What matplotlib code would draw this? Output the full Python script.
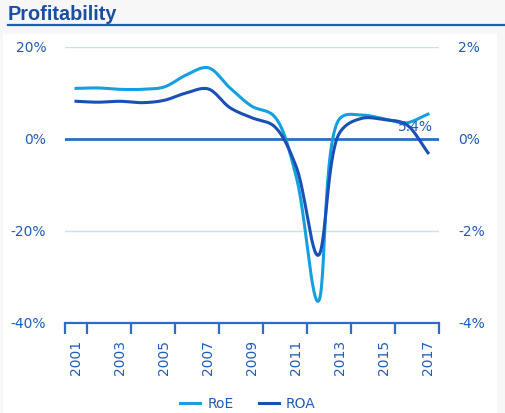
import numpy as np
import matplotlib
matplotlib.use('Agg')
import matplotlib.pyplot as plt
from matplotlib.patches import Rectangle
from matplotlib.lines import Line2D

# data
years = list(range(2001, 2018))
roe = [11.0, 11.1, 10.8, 10.8, 11.3, 13.9, 15.5, 11.1, 7.1, 5.0, -8.0, -35.3, 4.5, 5.2, 4.4, 3.5, 5.4]
roa = [0.82, 0.80, 0.82, 0.79, 0.84, 1.00, 1.09, 0.68, 0.46, 0.28, -0.59, -2.53, 0.15, 0.45, 0.42, 0.32, -0.30]
left_ticks = [-40, -20, 0, 20]
right_ticks = [-4, -2, 0, 2]
end_label = '5.4%'

light = '#14A0DE'
dark = '#1A4FB5'
txt = '#1F5CB5'


def smooth(y, sx, sy, n=30, a=0.5):
    # centripetal catmull-rom through the points, done in pixel-like space
    p = np.column_stack([np.arange(len(y)) * sx, np.asarray(y, float) * sy])
    p = np.vstack([2 * p[0] - p[1], p, 2 * p[-1] - p[-2]])
    out = []
    for i in range(1, len(p) - 2):
        P0, P1, P2, P3 = p[i - 1], p[i], p[i + 1], p[i + 2]
        t0 = 0.0
        t1 = t0 + np.linalg.norm(P1 - P0) ** a
        t2 = t1 + np.linalg.norm(P2 - P1) ** a
        t3 = t2 + np.linalg.norm(P3 - P2) ** a
        t = np.linspace(t1, t2, n)[:, None]
        A1 = (t1 - t) / (t1 - t0) * P0 + (t - t0) / (t1 - t0) * P1
        A2 = (t2 - t) / (t2 - t1) * P1 + (t - t1) / (t2 - t1) * P2
        A3 = (t3 - t) / (t3 - t2) * P2 + (t - t2) / (t3 - t2) * P3
        B1 = (t2 - t) / (t2 - t0) * A1 + (t - t0) / (t2 - t0) * A2
        B2 = (t3 - t) / (t3 - t1) * A2 + (t - t1) / (t3 - t1) * A3
        C = (t2 - t) / (t2 - t1) * B1 + (t - t1) / (t2 - t1) * B2
        out.append(C if i == 1 else C[1:])
    out = np.vstack(out)
    return out[:, 0] / sx, out[:, 1] / sy


plt.rcParams['font.family'] = ['DejaVu Sans']
fig = plt.figure(figsize=(5.06, 4.13), dpi=100, facecolor='#F7F7F7')

# white panel and title
fig.add_artist(Rectangle((3 / 506, 0), 494 / 506, 1 - 34 / 413, transform=fig.transFigure,
                         facecolor='white', edgecolor='none', zorder=-10))
fig.text(8 / 506, 1 - 20.5 / 413, 'Profitability', fontsize=14.3, fontweight='bold',
         family='Liberation Sans', color='#1A4FA0', va='baseline', ha='left')
fig.add_artist(Line2D([8 / 506, 1], [1 - 25 / 413, 1 - 25 / 413], transform=fig.transFigure,
                      color=txt, lw=1.6))

ax = fig.add_axes([65 / 506, 1 - 323 / 413, 374 / 506, 276 / 413])
ax.set_facecolor('none')
ax2 = ax.twinx()
ax2.set_facecolor('none')

x = np.arange(len(years))
ax.set_xlim(-0.5, len(years) - 0.5)
ax.set_ylim(-40, 20)
ax2.set_ylim(-4, 2)

for v in [20, -20]:
    ax.axhline(v, color='#BFE4F5', lw=1, zorder=1)
ax.axhline(0, color='#2E6CC4', lw=2, zorder=2)

sx, sy = smooth(roe, 22, 4.6)
ax.plot(sx, sy, color=light, lw=2.2, zorder=3, clip_on=False)
sx2, sy2 = smooth(roa, 22, 46)
ax2.plot(sx2, sy2, color=dark, lw=2.2, zorder=3, clip_on=False)

ax2.text(len(years) - 1.55, 0.27, end_label, color=txt, fontsize=10, ha='center', va='center')

for a in (ax, ax2):
    for s in ['top', 'left', 'right']:
        a.spines[s].set_visible(False)
ax.spines['bottom'].set_color('#2E6CC4')
ax.spines['bottom'].set_linewidth(1.6)
ax2.spines['bottom'].set_visible(False)

# tick marks on the category borders, labels every second year
ax.set_xticks([-0.5, 0.5, 2.5, 4.5, 6.5, 8.5, 10.5, 12.5, 14.5, 16.5])
ax.set_xticklabels([])
ax.tick_params(axis='x', which='major', length=8, width=1.6, color='#2E6CC4', direction='out')
ax.set_xticks(x[::2], minor=True)
ax.set_xticklabels([str(y) for y in years[::2]], minor=True, rotation=90)
ax.tick_params(axis='x', which='minor', length=0, pad=12, labelsize=10, labelcolor=txt)

ax.set_yticks(left_ticks)
ax.set_yticklabels([f'{v}%' for v in left_ticks])
ax.tick_params(axis='y', length=0, pad=13.5, labelsize=10, labelcolor=txt)
ax2.set_yticks(right_ticks)
ax2.set_yticklabels([f'{v}%' for v in right_ticks])
ax2.tick_params(axis='y', length=0, pad=14, labelsize=10, labelcolor=txt)

handles = [Line2D([], [], color=light, lw=2.2), Line2D([], [], color=dark, lw=2.2)]
fig.legend(handles, ['RoE', 'ROA'], loc='center', bbox_to_anchor=(0.49, 1 - 404 / 413), ncol=2,
           frameon=False, fontsize=10, labelcolor=txt, handlelength=1.45, columnspacing=1.8,
           handletextpad=0.5)

fig.savefig('out.png', dpi=100, facecolor=fig.get_facecolor())
